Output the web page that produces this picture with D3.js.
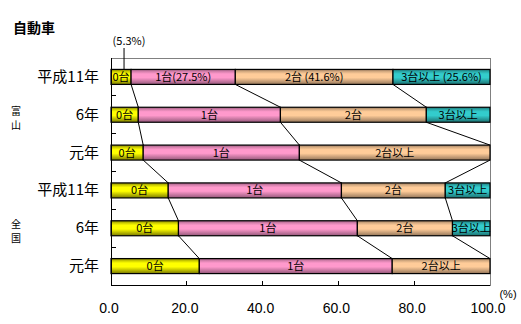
<!DOCTYPE html>
<html><head><meta charset="utf-8">
<script src="https://cdn.jsdelivr.net/npm/d3@7"></script>
<style>body{margin:0;background:#fff}svg{display:block}</style>
</head><body>
<svg id="c" width="521" height="324"></svg>
<script>
const title = "自動車";
const rowKeys = ["t11","t6","t1","z11","z6","z1"];
const rowLabels = ["平成11年","6年","元年","平成11年","6年","元年"];
const groups = [{name:["富","山"], rows:["t11","t6","t1"]},{name:["全","国"], rows:["z11","z6","z1"]}];
const toyamaH11 = [5.3, 27.5, 41.6, 25.6];
const toyama6 = [7.2, 37.5, 38.5, 16.8];
const toyama1 = [8.5, 41.2, 50.3];
const zenkokuH11 = [15.1, 45.7, 27.4, 11.8];
const zenkoku6 = [17.8, 47.2, 25.1, 9.9];
const zenkoku1 = [23.3, 50.9, 25.8];
const labels4 = ["0台","1台","2台","3台以上"];
const labels3 = ["0台","1台","2台以上"];
const labelsH11 = ["0台","1台(27.5%)","2台 (41.6%)","3台以上 (25.6%)"];
const callout = "(5.3%)";
const xTicks = [0,20,40,60,80,100];
const xTickLabels = ["0.0","20.0","40.0","60.0","80.0","100.0"];
const unit = "(%)";

const rowValues = [toyamaH11, toyama6, toyama1, zenkokuH11, zenkoku6, zenkoku1];
const rowSegLabels = [labelsH11, labels4, labels3, labels4, labels4, labels3];

const colors = [["#FFFF00","#7a7a00"],["#FF99CC","#94587a"],["#FFCC99","#94765a"],["#33CCCC","#1c7070"]];

const svg = d3.select("#c");
const L=111, R=490, T=58, B=285;
const x = d3.scaleLinear().domain([0,100]).range([L,R]);
const y = d3.scaleBand().domain(rowKeys).range([T,B]).paddingInner(0.6035).paddingOuter(0.30175);
const bh = y.bandwidth();
const step = y.step();

const defs = svg.append("defs");
colors.forEach((c,i)=>{
  const g = defs.append("linearGradient").attr("id","g"+i).attr("x1",0).attr("y1",0).attr("x2",0).attr("y2",1);
  g.append("stop").attr("offset","0%").attr("stop-color",c[1]);
  g.append("stop").attr("offset","14%").attr("stop-color",d3.interpolateRgb(c[1],c[0])(0.6));
  g.append("stop").attr("offset","30%").attr("stop-color",c[0]);
  g.append("stop").attr("offset","55%").attr("stop-color",c[0]);
  g.append("stop").attr("offset","100%").attr("stop-color",c[1]);
});

// frame
svg.append("rect").attr("x",L).attr("y",T).attr("width",R-L).attr("height",B-T)
  .attr("fill","none").attr("stroke","#808080").attr("stroke-width",1).attr("shape-rendering","crispEdges");

// title
svg.append("text").attr("x",13).attr("y",33).attr("font-family","'Noto Sans CJK JP'").attr("font-weight","bold")
  .attr("font-size",14).text(title);

// data rows
const rows = rowKeys.map((k,i)=>{
  let cum=0;
  const segs = rowValues[i].map((v,j)=>{const s={x0:cum,x1:cum+v,ci:j,label:rowSegLabels[i][j]}; cum+=v; return s;});
  const bounds = segs.slice(0,-1).map(s=>s.x1);
  while(bounds.length<3) bounds.push(100);
  return {key:k, segs, bounds};
});

// connector lines
const conn = svg.append("g").attr("stroke","#000").attr("stroke-width",1);
for(let i=0;i<rows.length-1;i++){
  const a=rows[i], b=rows[i+1];
  for(let k=0;k<3;k++){
    conn.append("line").attr("x1",x(a.bounds[k])).attr("y1",y(a.key)+bh)
      .attr("x2",x(b.bounds[k])).attr("y2",y(b.key));
  }
}

// bars
const gRows = svg.selectAll("g.row").data(rows).join("g").attr("class","row");
gRows.selectAll("rect").data(d=>d.segs.map(s=>({...s,key:d.key}))).join("rect")
  .attr("x",d=>x(d.x0)).attr("y",d=>y(d.key)).attr("width",d=>x(d.x1)-x(d.x0)).attr("height",bh)
  .attr("fill",d=>`url(#g${d.ci})`).attr("stroke","#000").attr("stroke-width",1.2);
gRows.selectAll("text").data(d=>d.segs.map(s=>({...s,key:d.key}))).join("text")
  .attr("x",d=>(x(d.x0)+x(d.x1))/2).attr("y",d=>y(d.key)+bh/2+4)
  .attr("text-anchor","middle").attr("font-family","'Noto Sans CJK JP'").attr("font-size",11)
  .text(d=>d.label);

// axes lines
svg.append("line").attr("x1",L).attr("x2",L).attr("y1",T).attr("y2",B).attr("stroke","#000").attr("shape-rendering","crispEdges");
svg.append("line").attr("x1",L).attr("x2",R).attr("y1",B).attr("y2",B).attr("stroke","#000").attr("shape-rendering","crispEdges");

// y ticks at band boundaries
rowKeys.slice(0,-1).forEach(k=>{
  const yy = y(k)+bh/2+step/2;
  svg.append("line").attr("x1",L).attr("x2",L+5).attr("y1",yy).attr("y2",yy).attr("stroke","#000").attr("shape-rendering","crispEdges");
});
// x ticks
xTicks.forEach((t,i)=>{
  if(i>0 && i<xTicks.length-1)
    svg.append("line").attr("x1",x(t)).attr("x2",x(t)).attr("y1",B).attr("y2",B-4).attr("stroke","#000").attr("shape-rendering","crispEdges");
  svg.append("text").attr("x",x(t)-2).attr("y",313).attr("text-anchor","middle")
    .attr("font-family","'Liberation Sans'").attr("font-size",14).attr("fill","#000").text(xTickLabels[i]);
});
svg.append("text").attr("x",508).attr("y",298).attr("text-anchor","middle")
  .attr("font-family","'Liberation Sans'").attr("font-size",11).text(unit);

// row labels
rowKeys.forEach((k,i)=>{
  svg.append("text").attr("x",99).attr("y",y(k)+bh/2+5).attr("text-anchor","end")
    .attr("font-family","'Noto Sans CJK JP'").attr("font-size",15).text(rowLabels[i]);
});
// group labels
groups.forEach(g=>{
  const c = (y(g.rows[0]) + y(g.rows[2]) + bh)/2;
  g.name.forEach((ch,j)=>{
    svg.append("text").attr("x",16).attr("y",c + j*14).attr("text-anchor","middle")
      .attr("font-family","'Noto Sans CJK JP'").attr("font-size",10).attr("fill","#000").text(ch);
  });
});

// callout
const cx = x(toyamaH11[0]/2)+3;
svg.append("line").attr("x1",cx).attr("x2",cx).attr("y1",48).attr("y2",y("t11")).attr("stroke","#000");
svg.append("text").attr("x",129).attr("y",45).attr("text-anchor","middle")
  .attr("font-family","'Noto Sans CJK JP'").attr("font-size",11).text(callout);
</script>
</body></html>
